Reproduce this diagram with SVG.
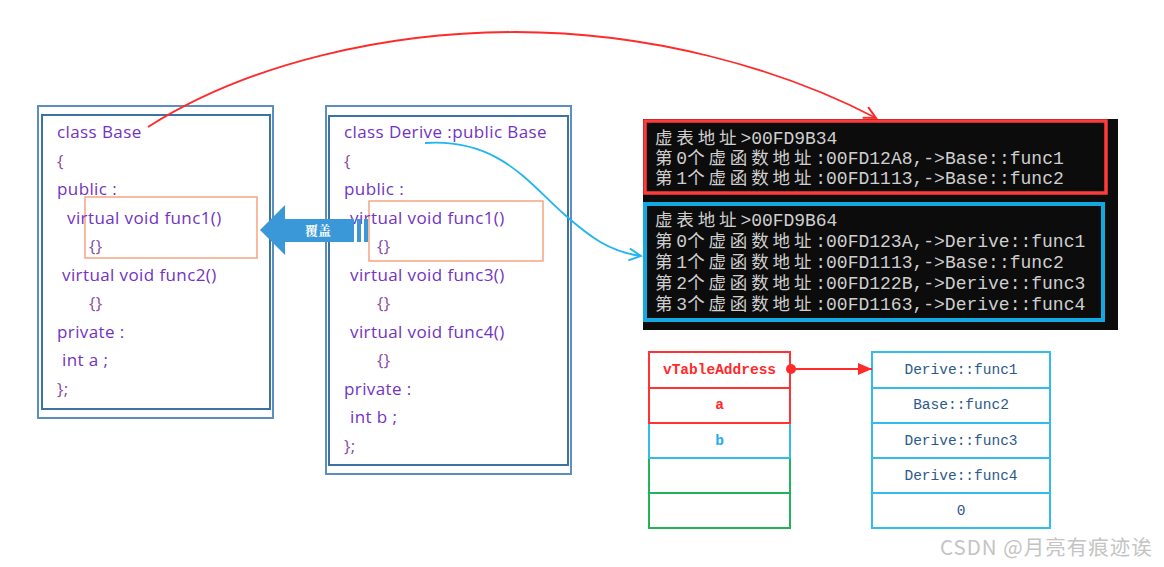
<svg xmlns="http://www.w3.org/2000/svg" width="1164" height="567" viewBox="0 0 1164 567">
<style>
.code{font-family:"Open Sans","Noto Sans",sans-serif;font-size:17px;letter-spacing:0.4px;fill:#7233c4}
.brace{fill:#8a4aa8}
.outer{fill:none;stroke:#5a8fc0;stroke-width:2}
.inner{fill:none;stroke:#3d72a4;stroke-width:2}
.hl{fill:none;stroke:#f4a582;stroke-width:1.5}
.con{font-family:"Liberation Mono","Noto Sans CJK SC",monospace;font-size:18px;fill:#cfcfcf}
.cjk{font-family:"Noto Sans CJK SC",sans-serif;font-size:17.5px}
.mem{font-family:"Liberation Mono",monospace;font-size:14.5px;text-anchor:middle}
.cellR{fill:#fff;stroke:#ff3333;stroke-width:2}
.cellB{fill:#fff;stroke:#33bbee;stroke-width:2}
.cellG{fill:#fff;stroke:#22b35a;stroke-width:2}
.lbl{font-family:"Noto Serif CJK SC","Noto Sans CJK SC",serif;font-size:13px;font-weight:bold;fill:#fff;text-anchor:middle}
.wm{font-family:"Noto Sans CJK SC","Noto Sans",sans-serif;font-size:20.5px;letter-spacing:1px;fill:#c4c4c4}
</style>
<defs>
<marker id="openRed" markerWidth="16" markerHeight="16" refX="14" refY="8" orient="auto" markerUnits="userSpaceOnUse">
<path d="M2,2 L14,8 L2,14" fill="none" stroke="#ff2a2a" stroke-width="2"/>
</marker>
<marker id="openCyan" markerWidth="16" markerHeight="16" refX="14" refY="8" orient="auto" markerUnits="userSpaceOnUse">
<path d="M2,2 L14,8 L2,14" fill="none" stroke="#22b5ee" stroke-width="2"/>
</marker>
<marker id="solidRed" markerWidth="16" markerHeight="14" refX="14" refY="7" orient="auto" markerUnits="userSpaceOnUse">
<path d="M0,1 L14,7 L0,13 Z" fill="#ff2a2a"/>
</marker>
</defs>
<rect width="1164" height="567" fill="#fff"/>

<g id="base-class">
<rect class="outer" x="38" y="106" width="235" height="312"/>
<rect class="inner" x="42" y="115" width="228" height="294"/>
<rect class="hl" x="85" y="197" width="172" height="61"/>
<text class="code" x="57" y="138">class Base</text>
<text class="code brace" x="57" y="166.5">{</text>
<text class="code" x="57" y="195">public :</text>
<text class="code" x="67" y="223.5">virtual void func1()</text>
<text class="code brace" x="89" y="252">{}</text>
<text class="code" x="62" y="280.5">virtual void func2()</text>
<text class="code brace" x="89" y="309">{}</text>
<text class="code" x="57" y="337.5">private :</text>
<text class="code" x="62" y="366">int a ;</text>
<text class="code brace" x="57" y="394.5">};</text>
</g>

<g id="derive-class">
<rect class="outer" x="326" y="106" width="245" height="368"/>
<rect class="inner" x="329" y="116" width="239" height="349"/>
<rect class="hl" x="369" y="201" width="174" height="60"/>
<text class="code" x="344" y="138">class Derive :public Base</text>
<text class="code brace" x="344" y="166.5">{</text>
<text class="code" x="344" y="195">public :</text>
<text class="code" x="350" y="223.5">virtual void func1()</text>
<text class="code brace" x="377" y="252">{}</text>
<text class="code" x="350" y="280.5">virtual void func3()</text>
<text class="code brace" x="377" y="309">{}</text>
<text class="code" x="350" y="337.5">virtual void func4()</text>
<text class="code brace" x="377" y="366">{}</text>
<text class="code" x="344" y="394.5">private :</text>
<text class="code" x="350" y="423">int b ;</text>
<text class="code brace" x="344" y="451.5">};</text>
</g>

<g id="override-arrow">
<path d="M260,230 L285,205 L285,219 L354,219 L354,242 L285,242 L285,255 Z" fill="#3a98d8"/>
<rect x="357" y="219" width="4" height="23" fill="#3a98d8"/>
<rect x="364" y="219" width="4" height="23" fill="#3a98d8"/>
<text class="lbl" x="318" y="235">覆盖</text>
</g>

<g id="console">
<rect x="643" y="119" width="475" height="211" fill="#0c0c0c"/>
<rect x="645" y="121" width="461" height="72" fill="none" stroke="#ff3b3b" stroke-width="3.5"/>
<rect x="645" y="204" width="458" height="116" fill="none" stroke="#14a8e0" stroke-width="4"/>
<text class="con" y="144"><tspan class="cjk" x="655 676.35 697.7 719.05">虚表地址</tspan><tspan x="740.4" textLength="97" lengthAdjust="spacing">&gt;00FD9B34</tspan></text>
<text class="con" y="164"><tspan class="cjk" x="655">第</tspan><tspan x="676.35">0</tspan><tspan class="cjk" x="687.15 708.5 729.85 751.2 772.55 793.9">个虚函数地址</tspan><tspan x="815.25" textLength="248.5" lengthAdjust="spacing">:00FD12A8,-&gt;Base::func1</tspan></text>
<text class="con" y="184"><tspan class="cjk" x="655">第</tspan><tspan x="676.35">1</tspan><tspan class="cjk" x="687.15 708.5 729.85 751.2 772.55 793.9">个虚函数地址</tspan><tspan x="815.25" textLength="248.5" lengthAdjust="spacing">:00FD1113,-&gt;Base::func2</tspan></text>
<text class="con" y="226"><tspan class="cjk" x="655 676.35 697.7 719.05">虚表地址</tspan><tspan x="740.4" textLength="97" lengthAdjust="spacing">&gt;00FD9B64</tspan></text>
<text class="con" y="247"><tspan class="cjk" x="655">第</tspan><tspan x="676.35">0</tspan><tspan class="cjk" x="687.15 708.5 729.85 751.2 772.55 793.9">个虚函数地址</tspan><tspan x="815.25" textLength="270" lengthAdjust="spacing">:00FD123A,-&gt;Derive::func1</tspan></text>
<text class="con" y="268"><tspan class="cjk" x="655">第</tspan><tspan x="676.35">1</tspan><tspan class="cjk" x="687.15 708.5 729.85 751.2 772.55 793.9">个虚函数地址</tspan><tspan x="815.25" textLength="248.5" lengthAdjust="spacing">:00FD1113,-&gt;Base::func2</tspan></text>
<text class="con" y="289"><tspan class="cjk" x="655">第</tspan><tspan x="676.35">2</tspan><tspan class="cjk" x="687.15 708.5 729.85 751.2 772.55 793.9">个虚函数地址</tspan><tspan x="815.25" textLength="270" lengthAdjust="spacing">:00FD122B,-&gt;Derive::func3</tspan></text>
<text class="con" y="310"><tspan class="cjk" x="655">第</tspan><tspan x="676.35">3</tspan><tspan class="cjk" x="687.15 708.5 729.85 751.2 772.55 793.9">个虚函数地址</tspan><tspan x="815.25" textLength="270" lengthAdjust="spacing">:00FD1163,-&gt;Derive::func4</tspan></text>
</g>

<g id="object-layout">
<rect class="cellG" x="649" y="458" width="141" height="35"/>
<rect class="cellG" x="649" y="493" width="141" height="35"/>
<rect class="cellB" x="649" y="423" width="141" height="35"/>
<rect class="cellR" x="649" y="388" width="141" height="35"/>
<rect class="cellR" x="649" y="352" width="141" height="36"/>
<text class="mem" x="719.5" y="374" fill="#ff2a2a" font-weight="bold">vTableAddress</text>
<text class="mem" x="719.5" y="409" fill="#ff2a2a" font-weight="bold">a</text>
<text class="mem" x="719.5" y="445" fill="#22aaee" font-weight="bold">b</text>
</g>

<g id="vtable">
<rect class="cellB" x="872" y="352" width="178" height="36"/>
<rect class="cellB" x="872" y="388" width="178" height="35"/>
<rect class="cellB" x="872" y="423" width="178" height="35"/>
<rect class="cellB" x="872" y="458" width="178" height="35"/>
<rect class="cellB" x="872" y="493" width="178" height="35"/>
<text class="mem" x="961" y="374" fill="#2a5a8a">Derive::func1</text>
<text class="mem" x="961" y="409" fill="#2a5a8a">Base::func2</text>
<text class="mem" x="961" y="445" fill="#2a5a8a">Derive::func3</text>
<text class="mem" x="961" y="480" fill="#2a5a8a">Derive::func4</text>
<text class="mem" x="961" y="515" fill="#2a5a8a">0</text>
</g>

<g id="connectors" fill="none">
<path d="M148,127 C250,62 390,32 515,32 C650,32 780,68 876,118" stroke="#ff2a2a" stroke-width="1.8" marker-end="url(#openRed)"/>
<path d="M425,143 C500,138 530,185 565,215 C590,237 610,252 641,256" stroke="#22b5ee" stroke-width="1.8" marker-end="url(#openCyan)"/>
<circle cx="791" cy="369" r="5" fill="#ff2a2a" stroke="none"/>
<path d="M791,369 L872,369" stroke="#ff2a2a" stroke-width="2" marker-end="url(#solidRed)"/>
</g>

<text class="wm" x="940" y="555">CSDN @月亮有痕迹诶</text>
</svg>
